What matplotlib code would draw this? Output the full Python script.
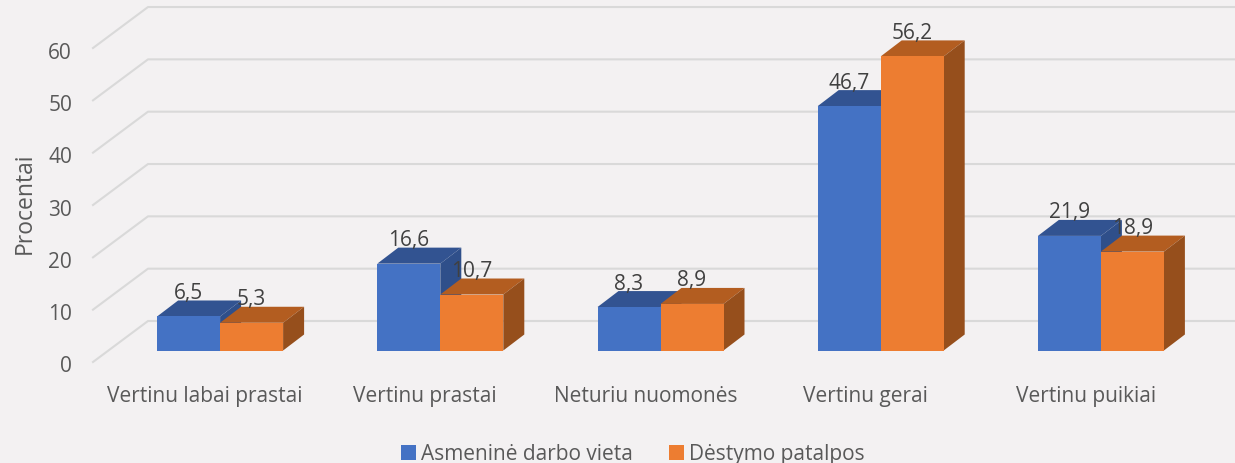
import matplotlib
matplotlib.use("Agg")
import matplotlib.pyplot as plt
import numpy as np
from matplotlib.patches import Polygon

categories = ["Vertinu labai prastai", "Vertinu prastai", "Neturiu nuomonės", "Vertinu gerai", "Vertinu puikiai"]
darbo_vieta = [6.5, 16.6, 8.3, 46.7, 21.9]
patalpos = [5.3, 10.7, 8.9, 56.2, 18.9]
value_labels_a = ["6,5", "16,6", "8,3", "46,7", "21,9"]
value_labels_b = ["5,3", "10,7", "8,9", "56,2", "18,9"]
y_ticks = [0, 10, 20, 30, 40, 50, 60]

W, H = 1235, 464
PX_X = 220.2      # pixels per category
PX_Y = 5.233      # pixels per percent
LEFT = 93         # front plane start
BASE = 363        # front plane zero, from the top

BG = "#f3f1f2"
GRID = "#d9d9d9"
TICK = "#595959"
LABEL = "#404040"

plt.rcParams["font.family"] = ["Open Sans", "DejaVu Sans"]


def dx(px):
    return px / PX_X


def dy(px):
    return px / PX_Y


fig = plt.figure(figsize=(W / 100, H / 100), dpi=100, facecolor=BG)
ax = fig.add_axes([0, 0, 1, 1])
ax.set_facecolor(BG)
ax.set_xlim(-dx(LEFT), dx(W - LEFT))
ax.set_ylim(-dy(H - BASE), dy(BASE))
ax.axis("off")

# walls: floor diagonal + back gridline
wall_x, wall_y = dx(55), dy(41)
for t in y_ticks:
    ax.plot([0, wall_x, 5 + wall_x], [t, t + wall_y, t + wall_y], color=GRID, lw=1.5, zorder=1)
    ax.text(-dx(21), t - dy(4), str(t), ha="right", va="center", fontsize=15, color=TICK)

# bars stand a bit behind the front plane
off_x, off_y = dx(17), dy(11.5)
depth_x, depth_y = dx(21), dy(16)
bar_w = dx(63)
x = np.arange(len(categories)) + 0.5 + off_x


def draw_bars(xs, values, color, top_color, side_color, label, texts, z):
    bars = ax.bar(xs, values, width=bar_w, bottom=off_y, color=color, label=label, zorder=z + 0.2)
    for bx, v in zip(xs, values):
        left, right = bx - bar_w / 2, bx + bar_w / 2
        top = v + off_y
        ax.add_patch(Polygon([(left, top), (right, top), (right + depth_x, top + depth_y), (left + depth_x, top + depth_y)],
                             closed=True, facecolor=top_color, edgecolor="none", zorder=z))
        ax.add_patch(Polygon([(right, off_y), (right + depth_x, off_y + depth_y), (right + depth_x, top + depth_y), (right, top)],
                             closed=True, facecolor=side_color, edgecolor="none", zorder=z))
    for bx, v, s in zip(xs, values, texts):
        ax.text(bx, v + off_y + dy(24), s, ha="center", va="center", fontsize=15, color=LABEL, zorder=10)
    return bars


draw_bars(x - bar_w / 2, darbo_vieta, "#4472c4", "#325391", "#2f4f8a", "Asmeninė darbo vieta", value_labels_a, 3)
draw_bars(x + bar_w / 2, patalpos, "#ed7d31", "#b35d20", "#964f1c", "Dėstymo patalpos", value_labels_b, 4)

for i, name in enumerate(categories):
    ax.text(i + 0.5 + dx(2), -dy(39), name, ha="center", va="baseline", fontsize=15, color=TICK)

ax.text(dx(25 - LEFT), dy(BASE - 203), "Procentai", rotation=90, ha="center", va="center", fontsize=16.5, color=TICK)

ax.legend(loc="center", bbox_to_anchor=(633 / W, 1 - 455 / H), ncol=2, frameon=False, fontsize=15,
          handlelength=0.7, handleheight=0.7, handletextpad=0.25, columnspacing=1.76, labelcolor=TICK,
          borderpad=0, borderaxespad=0)

fig.savefig("out.png", dpi=100, facecolor=BG)
